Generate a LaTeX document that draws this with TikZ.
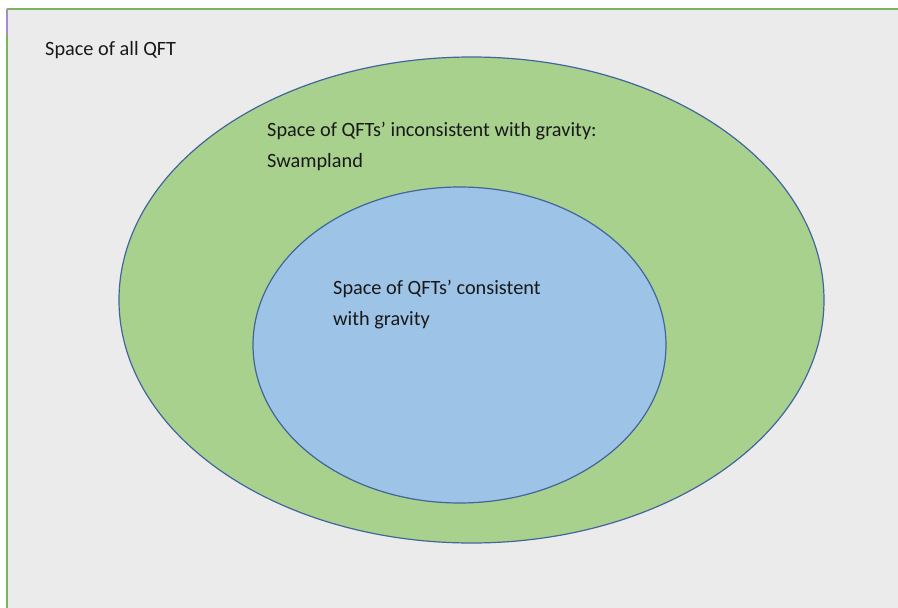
\documentclass[tikz,border=0pt]{standalone}
\usepackage{fontspec}
\setmainfont{Carlito}
\definecolor{bgc}{HTML}{EBEBEB}
\definecolor{outergreen}{HTML}{A9D18E}
\definecolor{innerblue}{HTML}{9DC3E6}
\definecolor{edgeblue}{HTML}{41659C}
\definecolor{framegreen}{HTML}{7DB35A}
\definecolor{framepurple}{HTML}{A98BD0}
\begin{document}
\begin{tikzpicture}[x=1pt,y=-1pt,
  region/.style={draw=edgeblue,line width=1.2pt},
  lbl/.style={font=\fontsize{20.3}{31}\selectfont,align=left,anchor=north west,inner sep=0pt,text=black!90}]
\fill[bgc] (0,0) rectangle (898,608);
\useasboundingbox (0,0) rectangle (898,608);
\fill[white] (0,0) rectangle (898,8);
\fill[white] (0,0) rectangle (6,608);
\coordinate (tl) at (7,9);
\coordinate (tr) at (898,9);
\coordinate (bl) at (7,608);
\coordinate (pl) at (7,35);
\draw[framegreen,line width=2pt] (tl) -- (tr);
\draw[framegreen,line width=2pt] (pl) -- (bl);
\draw[framepurple,line width=2pt] (tl) -- (pl);
\path[region,fill=outergreen] (471.5,300) ellipse [x radius=352.5, y radius=243];
\path[region,fill=innerblue] (459.5,345) ellipse [x radius=206.5, y radius=158];
\node[lbl] (all) at (45,41) {Space of all QFT};
\node[lbl] (swamp) at (267,122) {Space of QFTs’ inconsistent with gravity:\\Swampland};
\node[lbl] (cons) at (333,280) {Space of QFTs’ consistent\\with gravity};
\end{tikzpicture}
\end{document}
